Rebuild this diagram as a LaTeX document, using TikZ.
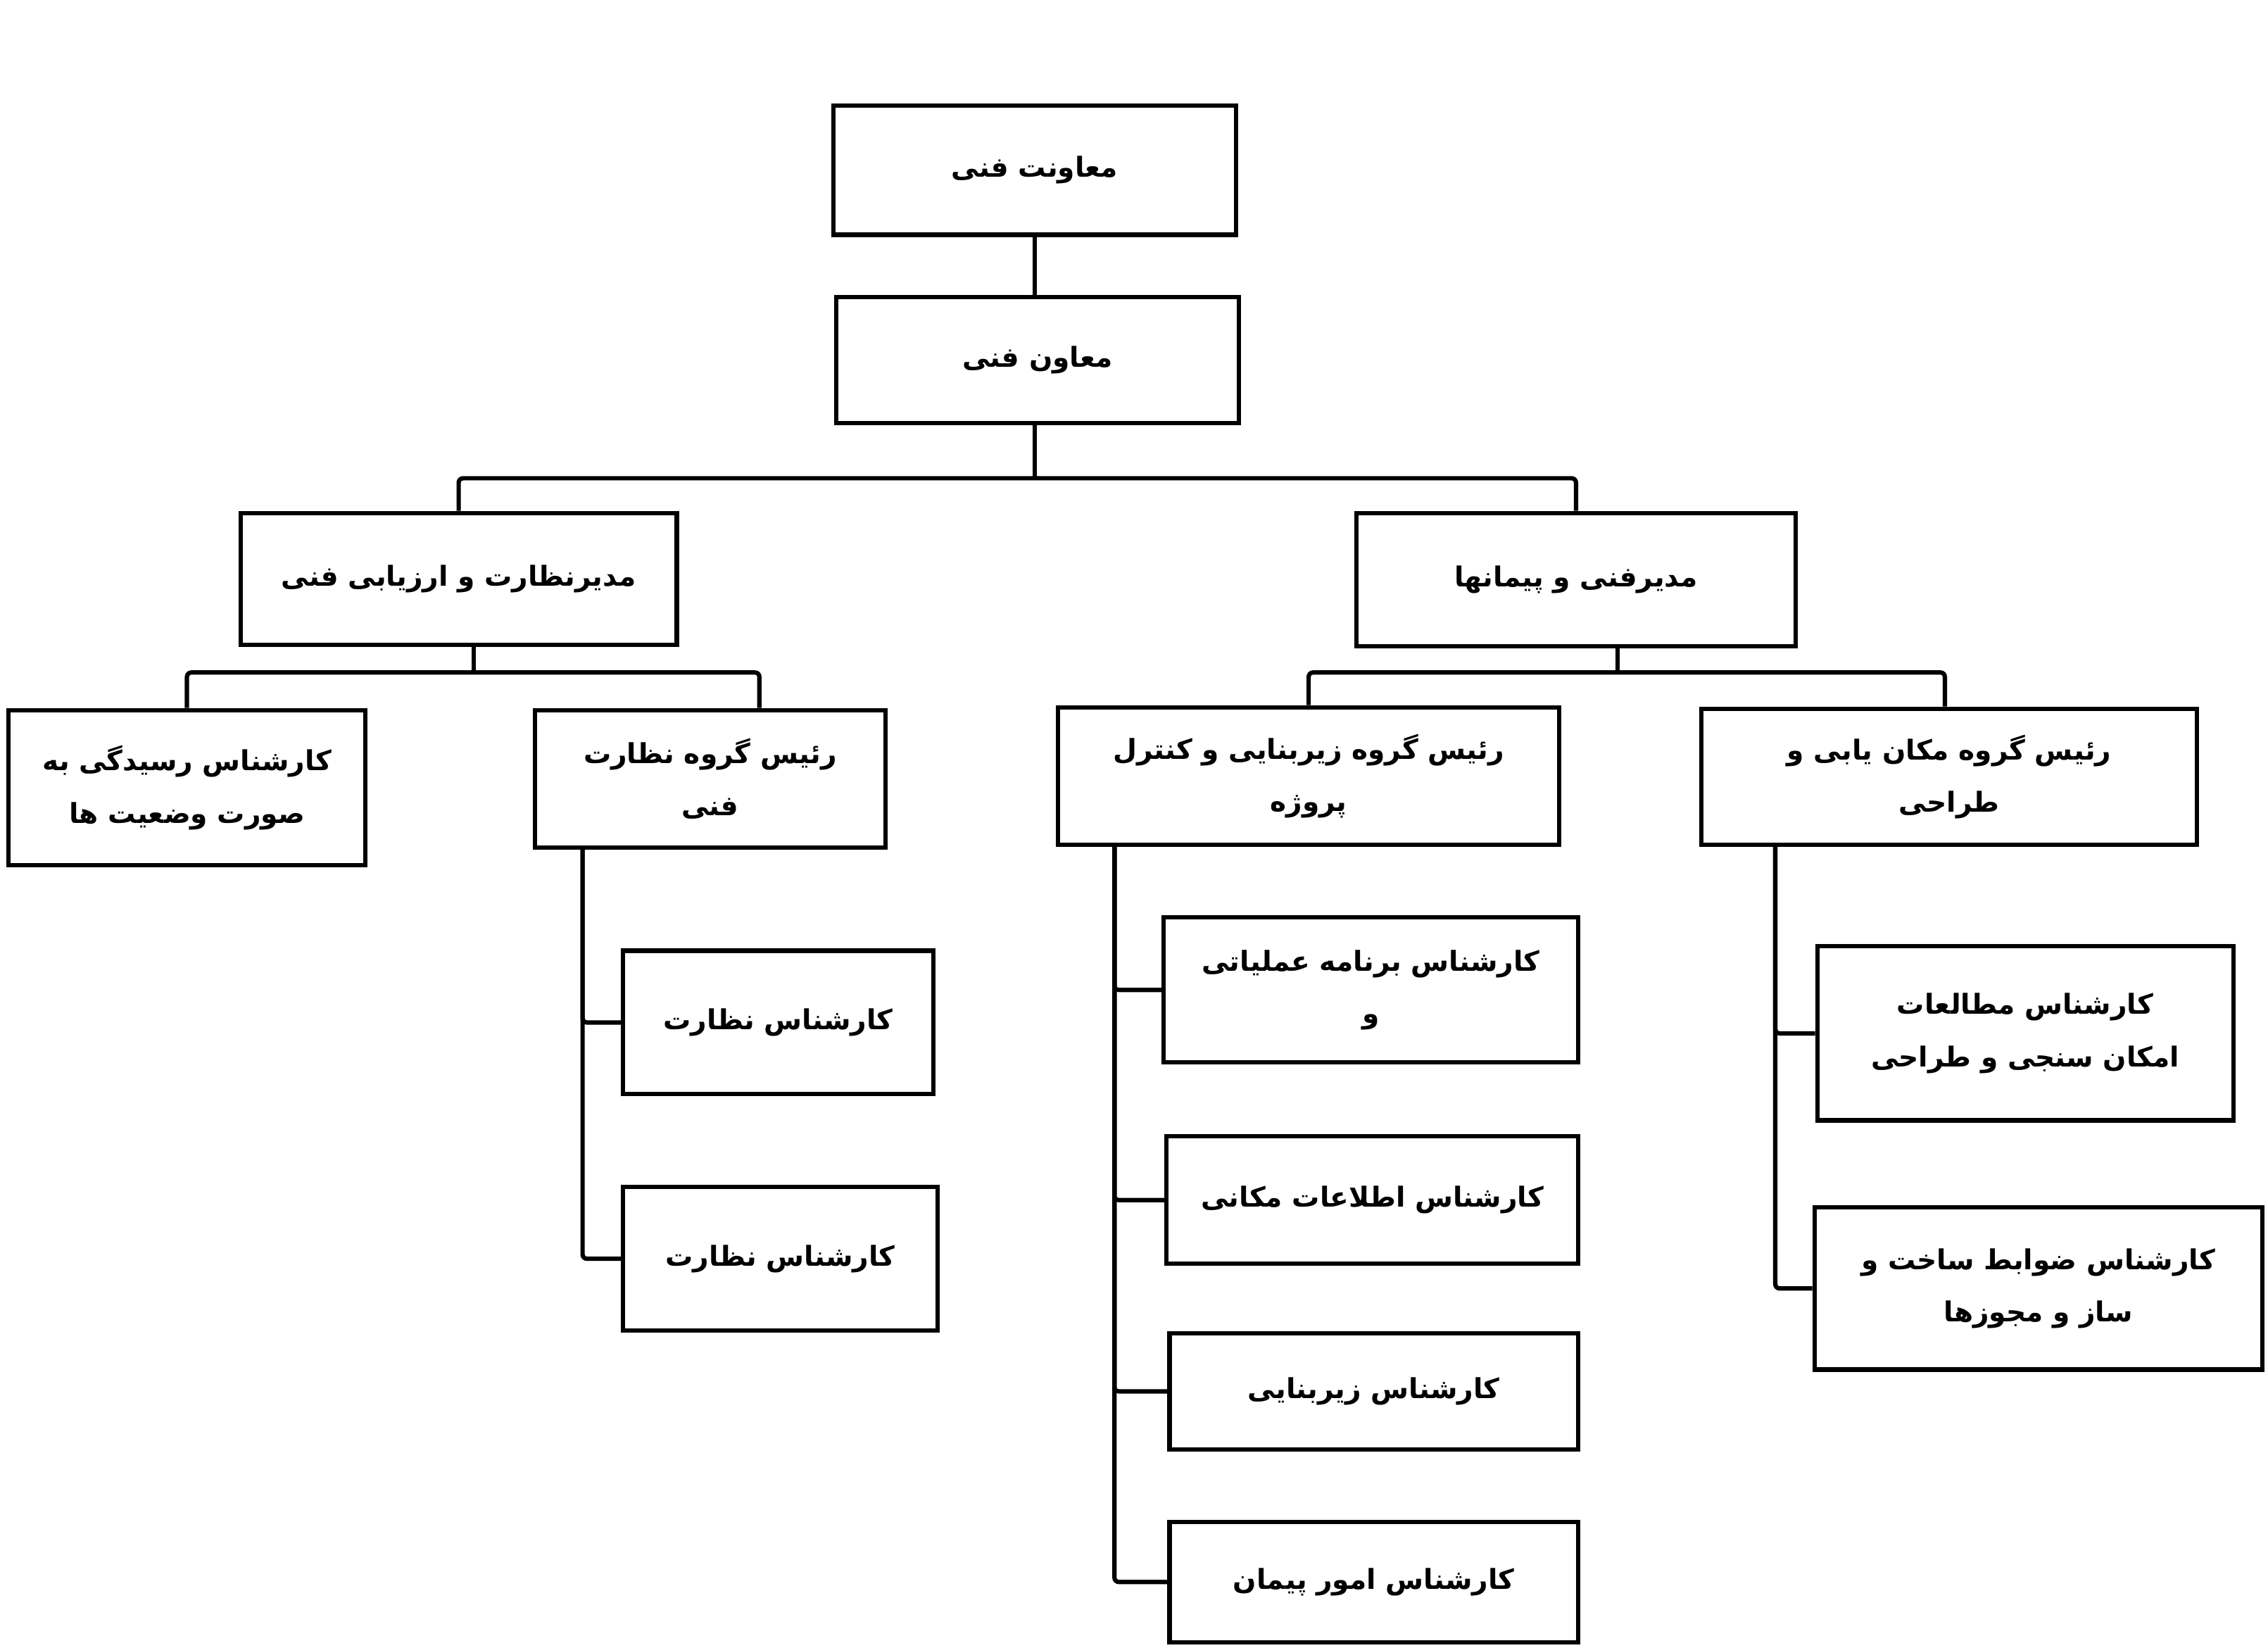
\documentclass[tikz,border=0pt]{standalone}
\usepackage{fontspec}
\newfontfamily\arabicfont[Script=Arabic]{DejaVu Sans}
\TeXXeTstate=1
\newcommand{\rl}[1]{\beginR #1\endR}
\tikzset{
  orgbox/.style={draw, line width=3pt, align=center, inner sep=0pt,
    font=\arabicfont\bfseries\fontsize{19}{36}\selectfont},
  orgline/.style={line width=3pt, rounded corners=3pt},
}
\begin{document}
\begin{tikzpicture}[x=1pt,y=-1pt]
  \useasboundingbox (0,0) rectangle (1565,1137);

  % top levels
  \node[orgbox, minimum width=278, minimum height=89] (vp) at (714,117.5) {\rl{معاونت فنی}};
  \node[orgbox, minimum width=278, minimum height=87] (dep) at (716,248.5) {\rl{معاون فنی}};
  \node[orgbox, minimum width=301, minimum height=91] (mgrA) at (316.5,399.5) {\rl{مدیرنظارت و ارزیابی فنی}};
  \node[orgbox, minimum width=303, minimum height=92] (mgrB) at (1087.5,400) {\rl{مدیرفنی و  پیمانها}};

  % left branch
  \node[orgbox, minimum width=246, minimum height=107] (audit) at (129,543.5) {\rl{کارشناس رسیدگی به}\\\rl{صورت وضعیت ها}};
  \node[orgbox, minimum width=242, minimum height=95] (supHead) at (490,537.5) {\rl{رئیس گروه نظارت}\\\rl{فنی}};
  \node[orgbox, minimum width=214, minimum height=99] (sup1) at (537,705.5) {\rl{کارشناس نظارت}};
  \node[orgbox, minimum width=217, minimum height=99] (sup2) at (538.5,868.5) {\rl{کارشناس نظارت}};

  % right branch
  \node[orgbox, minimum width=346, minimum height=95] (infHead) at (903,535.5) {\rl{رئیس گروه زیربنایی و کنترل}\\\rl{پروژه}};
  \node[orgbox, minimum width=342, minimum height=94] (locHead) at (1345,536) {\rl{رئیس گروه مکان یابی و}\\\rl{طراحی}};
  \node[orgbox, minimum width=286, minimum height=100] (inf1) at (946,683) {\rl{کارشناس برنامه عملیاتی}\\\rl{و}};
  \node[orgbox, minimum width=284, minimum height=88] (inf2) at (947,828) {\rl{کارشناس اطلاعات مکانی}};
  \node[orgbox, minimum width=282, minimum height=80] (inf3) at (948,960) {\rl{کارشناس زیربنایی}};
  \node[orgbox, minimum width=282, minimum height=83] (inf4) at (948,1091.5) {\rl{کارشناس امور پیمان}};
  \node[orgbox, minimum width=287, minimum height=120] (loc1) at (1397.5,713) {\rl{کارشناس مطالعات}\\\rl{امکان سنجی و طراحی}};
  \node[orgbox, minimum width=309, minimum height=112] (loc2) at (1406.5,889) {\rl{کارشناس ضوابط ساخت و}\\\rl{ساز و مجوزها}};

  % connectors
  \draw[orgline] (vp.south) -- (vp.south |- dep.north);
  \coordinate (busTop) at (714,330);
  \draw[orgline] (busTop -| dep.south) -- (busTop);
  \draw[orgline] (dep.south -| busTop) -- (busTop);
  \draw[orgline] (mgrA.north) |- (busTop) -| (mgrB.north);

  \coordinate (busA) at (327,464);
  \draw[orgline] (mgrA.south -| busA) -- (busA);
  \draw[orgline] (audit.north) |- (busA) -| ([xshift=34pt]supHead.north);

  \coordinate (busB) at (1116,464);
  \draw[orgline] (mgrB.south -| busB) -- (busB);
  \draw[orgline] (infHead.north) |- (busB) -| ([xshift=-3pt]locHead.north);

  \coordinate (spA) at (402,585);
  \draw[orgline] (spA) |- (sup1.west);
  \draw[orgline] (spA) |- (sup2.west);

  \coordinate (spB) at (769,583);
  \foreach \n in {inf1,inf2,inf3,inf4}
    \draw[orgline] (spB) |- (\n.west);

  \coordinate (spC) at (1225,583);
  \foreach \n in {loc1,loc2}
    \draw[orgline] (spC) |- (\n.west);
\end{tikzpicture}
\end{document}
